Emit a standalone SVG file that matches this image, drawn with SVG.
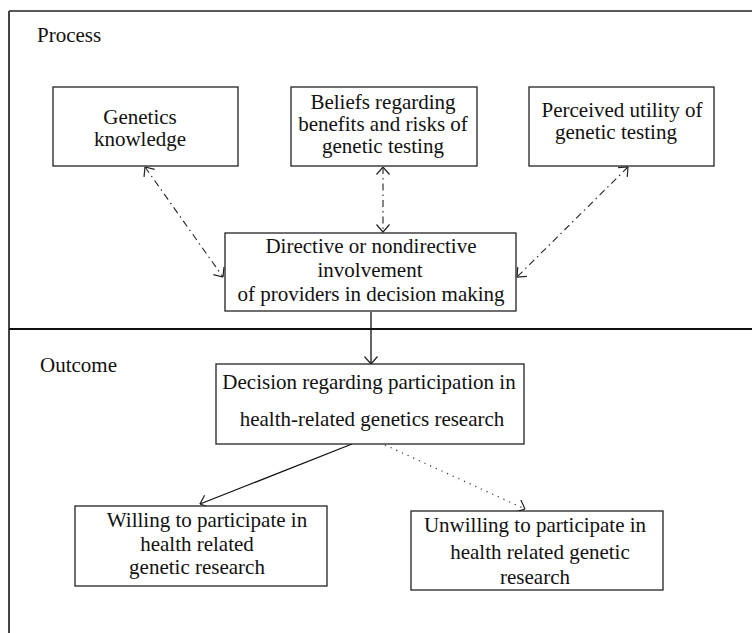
<svg xmlns="http://www.w3.org/2000/svg" width="752" height="633" viewBox="0 0 752 633">
<style>
text{font-family:"Liberation Serif","Times New Roman",serif;font-size:21px;fill:#111;}
.c{text-anchor:middle;}
.box{fill:#fff;stroke:#222;stroke-width:1.3;}
.dd{fill:none;stroke:#222;stroke-width:1.1;stroke-dasharray:7 4 1.5 4;}
.sol{fill:none;stroke:#111;stroke-width:1.3;}
.dot{fill:none;stroke:#333;stroke-width:1.2;stroke-dasharray:1.2 5;}
</style>
<defs>
<marker id="ah" viewBox="0 0 10 14" refX="9.5" refY="7" markerWidth="10" markerHeight="14" markerUnits="userSpaceOnUse" orient="auto-start-reverse">
<path d="M2,0.5 L9.5,7 L2,13.5" fill="none" stroke="#222" stroke-width="1.2" stroke-dasharray="none"/>
</marker>
</defs>
<rect width="752" height="633" fill="#fff"/>
<g id="frame">
<line x1="9" y1="11" x2="752" y2="11" stroke="#222" stroke-width="1.5"/>
<line x1="9" y1="11" x2="9" y2="633" stroke="#444" stroke-width="2"/>
<line x1="9" y1="329" x2="752" y2="329" stroke="#111" stroke-width="2.2"/>
<text x="37" y="42">Process</text>
<text x="40" y="372">Outcome</text>
</g>
<g id="connectors">
<path class="dd" d="M145,167 L223,277" marker-start="url(#ah)" marker-end="url(#ah)"/>
<path class="dd" d="M383,167 L383,232" marker-start="url(#ah)" marker-end="url(#ah)"/>
<path class="dd" d="M628,167 L517,277" marker-start="url(#ah)" marker-end="url(#ah)"/>
<path class="sol" d="M371,312 L371,364" marker-end="url(#ah)"/>
<path class="sol" d="M352,444 L200,504" marker-end="url(#ah)"/>
<path class="dot" d="M385,445 L525,509" marker-end="url(#ah)"/>
</g>
<g id="genetics">
<rect class="box" x="53" y="87" width="185" height="79"/>
<text class="c" x="140" y="124">Genetics</text>
<text class="c" x="140" y="146">knowledge</text>
</g>
<g id="beliefs">
<rect class="box" x="291" y="87" width="186" height="79"/>
<text class="c" x="383" y="109">Beliefs regarding</text>
<text class="c" x="383" y="131">benefits and risks of</text>
<text class="c" x="383" y="153">genetic testing</text>
</g>
<g id="perceived">
<rect class="box" x="529" y="87" width="185" height="79"/>
<text class="c" x="622" y="117">Perceived utility of</text>
<text class="c" x="616" y="139">genetic testing</text>
</g>
<g id="directive">
<rect class="box" x="225" y="233" width="291" height="78"/>
<text class="c" x="371" y="253">Directive or nondirective</text>
<text class="c" x="370" y="277">involvement</text>
<text class="c" x="371" y="301">of providers in decision making</text>
</g>
<g id="decision">
<rect class="box" x="216" y="364" width="308" height="80"/>
<text class="c" x="369" y="389">Decision regarding participation in</text>
<text class="c" x="372" y="426">health-related genetics research</text>
</g>
<g id="willing">
<rect class="box" x="75" y="506" width="252" height="80"/>
<text class="c" x="207" y="527">Willing to participate in</text>
<text class="c" x="197" y="551">health related</text>
<text class="c" x="197" y="574">genetic research</text>
</g>
<g id="unwilling">
<rect class="box" x="411" y="511" width="252" height="79"/>
<text class="c" x="535" y="532">Unwilling to participate in</text>
<text class="c" x="540" y="559">health related genetic</text>
<text class="c" x="535" y="584">research</text>
</g>
</svg>
